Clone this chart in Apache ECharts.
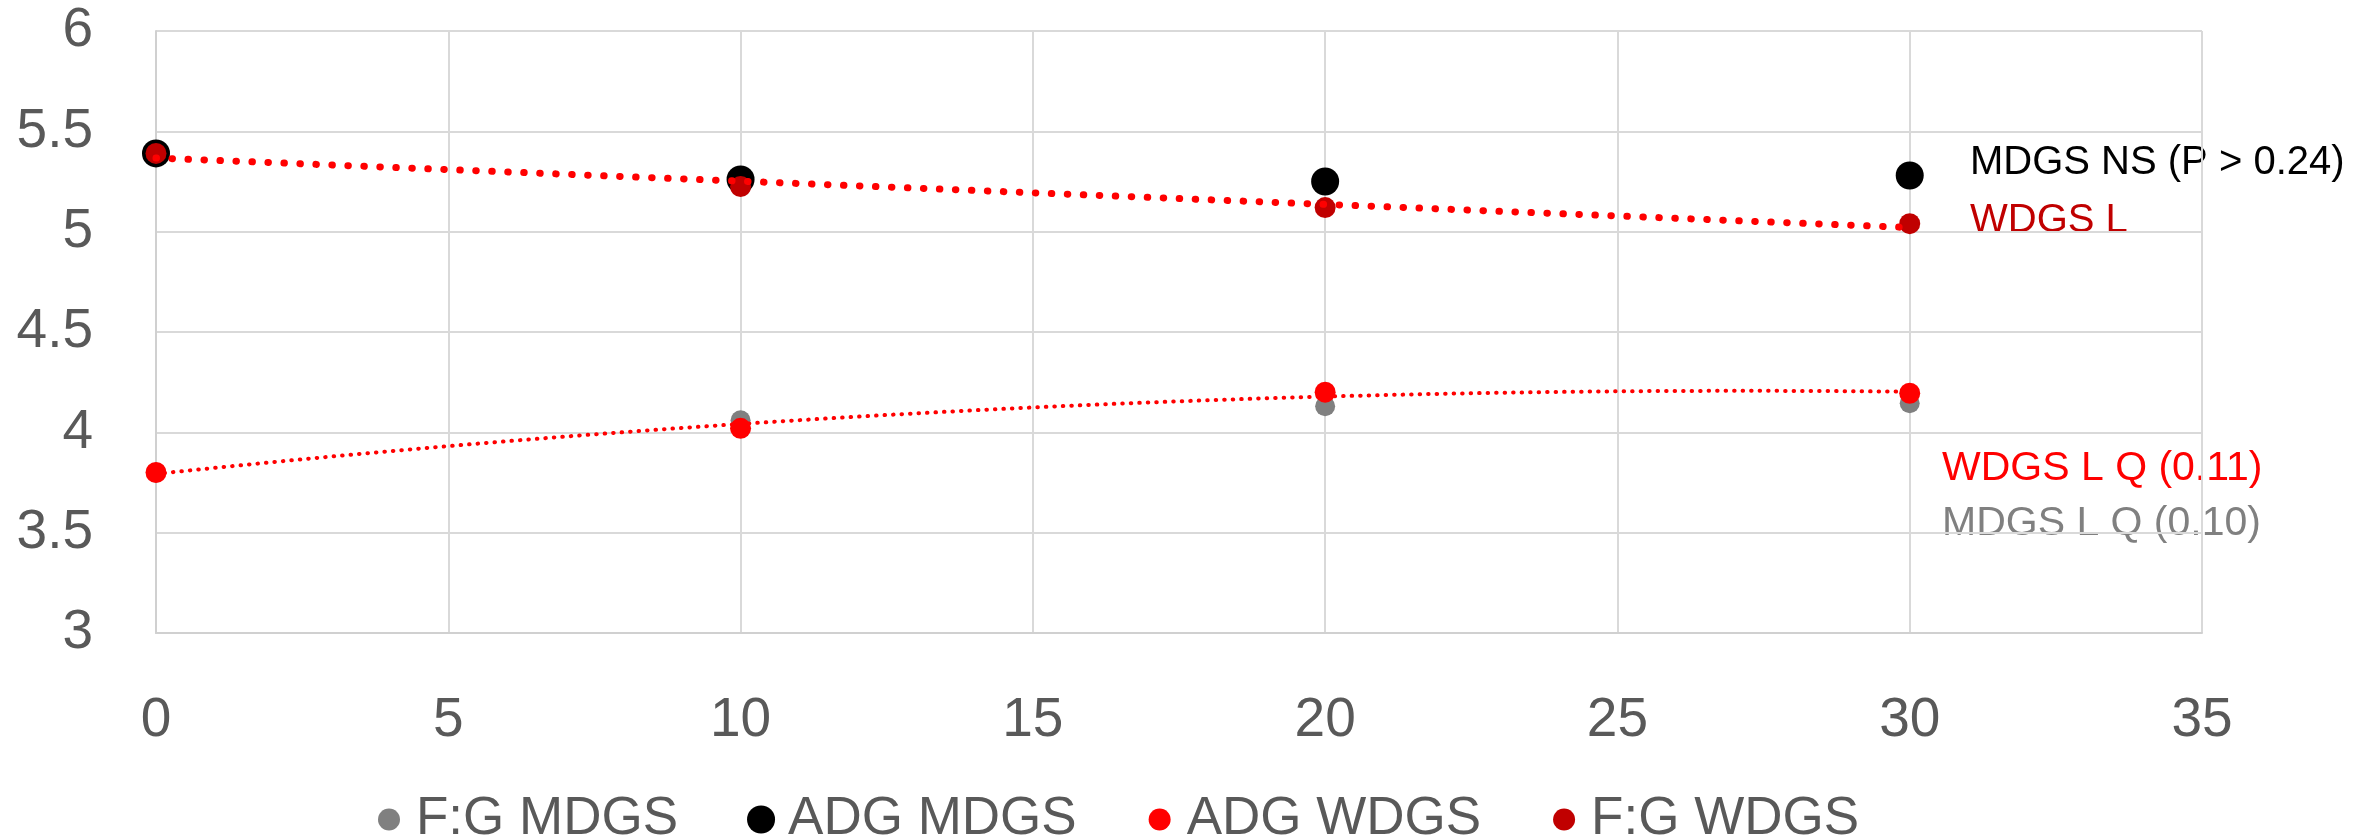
<!DOCTYPE html>
<html>
<head>
<meta charset="utf-8">
<script src="https://cdn.jsdelivr.net/npm/echarts@6/dist/echarts.min.js"></script>
<style>html,body{margin:0;padding:0;background:#fff}#c{width:2356px;height:840px}</style>
</head>
<body>
<div id="c"></div>
<script>
// ---- data ----
const xDays = [0, 10, 20, 30];
const fgMDGS = [3.80, 4.06, 4.13, 4.145];
const adgMDGS = [5.39, 5.26, 5.25, 5.28];
const adgWDGS = [3.80, 4.02, 4.20, 4.195];
const fgWDGS = [5.39, 5.225, 5.12, 5.04];
const seriesNames = ['F:G MDGS', 'ADG MDGS', 'ADG WDGS', 'F:G WDGS'];
const annotations = ['MDGS NS (P > 0.24)', 'WDGS L', 'WDGS L Q (0.11)', 'MDGS L Q (0.10)'];

// ---- least-squares trendlines computed from the data ----
function polyFit(xs, ys, deg) {
  const n = deg + 1;
  const A = [], b = [];
  for (let i = 0; i < n; i++) {
    A.push([]);
    for (let j = 0; j < n; j++) {
      let s = 0; for (const x of xs) s += Math.pow(x, i + j);
      A[i].push(s);
    }
    let t = 0; xs.forEach((x, k) => t += ys[k] * Math.pow(x, i));
    b.push(t);
  }
  for (let i = 0; i < n; i++) {
    let p = i;
    for (let r = i + 1; r < n; r++) if (Math.abs(A[r][i]) > Math.abs(A[p][i])) p = r;
    [A[i], A[p]] = [A[p], A[i]]; [b[i], b[p]] = [b[p], b[i]];
    for (let r = 0; r < n; r++) {
      if (r === i) continue;
      const f = A[r][i] / A[i][i];
      for (let c = i; c < n; c++) A[r][c] -= f * A[i][c];
      b[r] -= f * b[i];
    }
  }
  return b.map((v, i) => v / A[i][i]);
}
function trend(xs, ys, deg) {
  const c = polyFit(xs, ys, deg);
  const out = [];
  const x0 = xs[0], x1 = xs[xs.length - 1];
  for (let k = 0; k <= 120; k++) {
    const x = x0 + (x1 - x0) * k / 120;
    let y = 0; c.forEach((ci, i) => y += ci * Math.pow(x, i));
    out.push([x, y]);
  }
  return out;
}
const pairs = (ys) => xDays.map((x, i) => [x, ys[i]]);

const FONT = '"Liberation Sans", Arial, sans-serif';
const smallIcon = 'path://M0,0M28,28M3,14a11,11 0 1,0 22,0a11,11 0 1,0 -22,0z';

const chart = echarts.init(document.getElementById('c'), null, {renderer: 'canvas'});
chart.setOption({
  animation: false,
  backgroundColor: '#ffffff',
  textStyle: {fontFamily: FONT},
  grid: {left: 156, right: 154, top: 31, bottom: 207, containLabel: false},
  xAxis: {
    type: 'value', min: 0, max: 35, interval: 5,
    axisLine: {show: true, lineStyle: {color: '#d0d0d0', width: 2}},
    axisTick: {show: false},
    splitLine: {show: true, lineStyle: {color: '#d9d9d9', width: 2}},
    axisLabel: {color: '#595959', fontSize: 55, fontFamily: FONT, margin: 60}
  },
  yAxis: {
    type: 'value', min: 3, max: 6, interval: 0.5,
    axisLine: {show: true, lineStyle: {color: '#d0d0d0', width: 2}},
    axisTick: {show: false},
    splitLine: {show: true, lineStyle: {color: '#d9d9d9', width: 2}},
    axisLabel: {color: '#595959', fontSize: 55, fontFamily: FONT, margin: 63}
  },
  legend: {
    left: 370, top: 788,
    itemWidth: 28, itemHeight: 28, itemGap: 69,
    textStyle: {color: '#595959', fontSize: 53, fontFamily: FONT, padding: [0, 0, 0, 8]},
    data: [
      {name: seriesNames[0], icon: smallIcon},
      {name: seriesNames[1], icon: 'circle'},
      {name: seriesNames[2], icon: smallIcon},
      {name: seriesNames[3], icon: smallIcon}
    ]
  },
  series: [
    {name: seriesNames[0], type: 'scatter', data: pairs(fgMDGS), symbolSize: 20, itemStyle: {color: '#808080', opacity: 1}, z: 2},
    {name: seriesNames[1], type: 'scatter', data: pairs(adgMDGS), symbolSize: 28, itemStyle: {color: '#000000', opacity: 1}, z: 3},
    {name: seriesNames[2], type: 'scatter', data: pairs(adgWDGS), symbolSize: 21, itemStyle: {color: '#ff0000', opacity: 1}, z: 4},
    {name: seriesNames[3], type: 'scatter', data: pairs(fgWDGS), symbolSize: 21, itemStyle: {color: '#c00000', opacity: 1}, z: 5},
    {name: 'trendWDGSL', type: 'line', data: trend(xDays, fgWDGS, 1), showSymbol: false, symbol: 'none', z: 6,
      lineStyle: {color: '#ff0000', width: 7, type: [0.5, 15.5], cap: 'round'}, silent: true},
    {name: 'trendWDGSQ', type: 'line', data: trend(xDays, adgWDGS, 2), showSymbol: false, symbol: 'none', z: 6,
      lineStyle: {color: '#ff0000', width: 4, type: [0.5, 8], cap: 'round'}, silent: true}
  ],
  graphic: [
    {type: 'text', x: 1970, y: 163, style: {text: annotations[0], fill: '#000000', font: '40px ' + FONT, verticalAlign: 'middle'}},
    {type: 'text', x: 1970, y: 221, style: {text: annotations[1], fill: '#c00000', font: '40px ' + FONT, verticalAlign: 'middle'}},
    {type: 'text', x: 1942, y: 469, style: {text: annotations[2], fill: '#ff0000', font: '41px ' + FONT, verticalAlign: 'middle'}},
    {type: 'text', x: 1942, y: 524, style: {text: annotations[3], fill: '#808080', font: '41px ' + FONT, verticalAlign: 'middle'}}
  ]
});
</script>
</body>
</html>
